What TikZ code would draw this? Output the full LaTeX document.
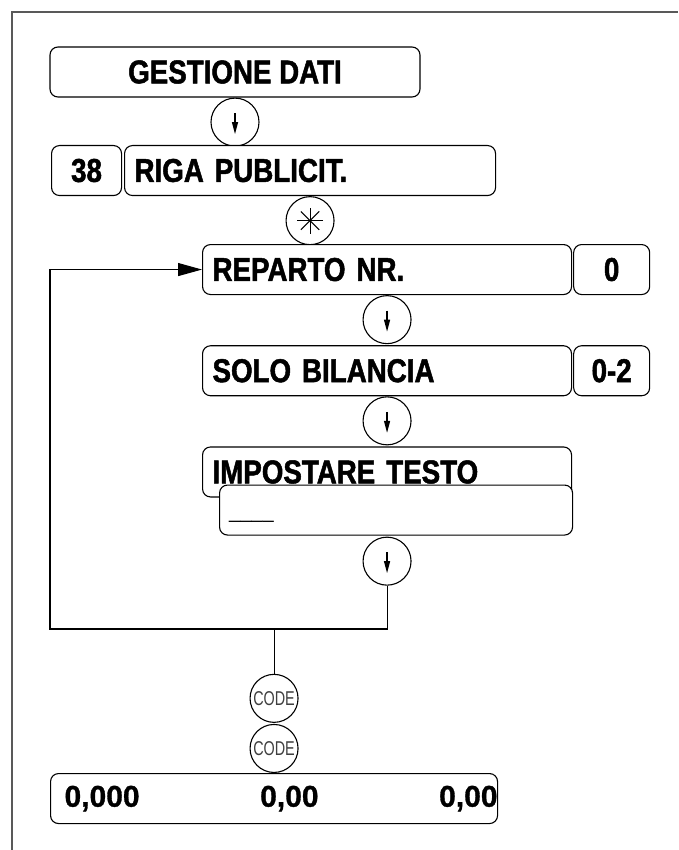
\documentclass[tikz,border=0pt]{standalone}
\usepackage{fontspec}
\setmainfont{Liberation Sans}
\newfontfamily\panelfont{Liberation Sans}[FakeStretch=0.84, BoldFeatures={FakeBold=1.5}]
\newfontfamily\valuefont{Liberation Sans}[BoldFeatures={FakeBold=1}]
\newfontfamily\keyfont{Liberation Sans}[FakeStretch=0.72]
\usetikzlibrary{arrows.meta,positioning,calc}

\begin{document}
\begin{tikzpicture}[x=1pt, y=-1pt,
  disp/.style={rectangle, draw, rounded corners=8pt, fill=white, inner sep=0pt,
               line width=1.1pt, minimum height=50pt,
               font=\panelfont\bfseries\fontsize{33}{34}\selectfont},
  lefttext/.style={align=left, inner xsep=10pt, text width=#1},
  key/.style={circle, draw, fill=white, inner sep=0pt, line width=1.1pt,
              minimum size=48pt},
  downkey/.style={key, path picture={
      \draw[line width=1.2pt, -{Triangle[length=12pt,width=6pt]}]
        ($(path picture bounding box.center)+(0,-9)$) -- ++(0,21);}},
  starkey/.style={key, path picture={
      \foreach \a in {0,45,90,135}
        \draw[line width=1pt] ($(path picture bounding box.center)+(\a:13)$)
          -- ($(path picture bounding box.center)+(\a+180:13)$);}},
  codekey/.style={key, font=\keyfont\fontsize{20}{20}\selectfont, text=black!75},
  flow/.style={draw, line width=1.1pt},
  frame/.style={draw=black!65, line width=2pt}
]
  \useasboundingbox (0,0) rectangle (678,850);
  \draw[frame] (12,850) -- (12,12) -- (678,12);

  % menu entry
  \node[disp, minimum width=370pt] (gestione) at (235,72) {GESTIONE DATI};
  \node[downkey, below=0pt of gestione] (down1) {};
  \node[disp, anchor=north west, minimum width=70pt] (menuno) at (51,145) {38};
  \node[disp, anchor=north west, lefttext=351pt] (riga) at (124,145) {RIGA PUBLICIT.};
  \node[starkey, below=0pt of riga] (star) {};

  % parameters
  \node[disp, anchor=north west, lefttext=349pt] (reparto) at (202,244) {REPARTO NR.};
  \node[disp, right=1pt of reparto, minimum width=76pt] (repval) {0};
  \node[downkey, below=0pt of reparto] (down2) {};
  \node[disp, lefttext=349pt, below=1pt of down2] (solo) {SOLO BILANCIA};
  \node[disp, right=1pt of solo, minimum width=76pt] (soloval) {0-2};
  \node[downkey, below=0pt of solo] (down3) {};
  \node[disp, lefttext=349pt, below=1pt of down3] (testo) {IMPOSTARE TESTO};
  \node[disp, anchor=north east, minimum width=353pt] (entry)
    at ($(testo.south east)+(1,-13)$) {};
  \node[font=\fontsize{20}{20}\selectfont, anchor=base west, inner sep=0pt] (cursor)
    at ($(entry.west)+(10,8)$) {\_\_\_\_};
  \node[downkey, anchor=north] (down4) at ($(entry.south -| testo.center)+(0,1)$) {};

  % exit
  \node[disp, anchor=north west, minimum width=447pt, text width=447pt,
        font=\valuefont\bfseries\fontsize{30}{31}\selectfont] (total) at (50,773)
    {\hspace*{14pt}0,000\hfill 0,00\hfill 0,00};
  \node[codekey, above=0pt of total] (codeB) {CODE};
  \node[codekey, above=1pt of codeB] (codeA) {CODE};

  \coordinate (loop) at (50,629);
  \coordinate (split) at (codeA.north |- loop);
  \draw[flow, -{Triangle[length=24pt,width=13pt]}]
    (down4.south) |- (loop) |- (reparto.west);
  \draw[flow] (split) -- (codeA.north);
\end{tikzpicture}
\end{document}
